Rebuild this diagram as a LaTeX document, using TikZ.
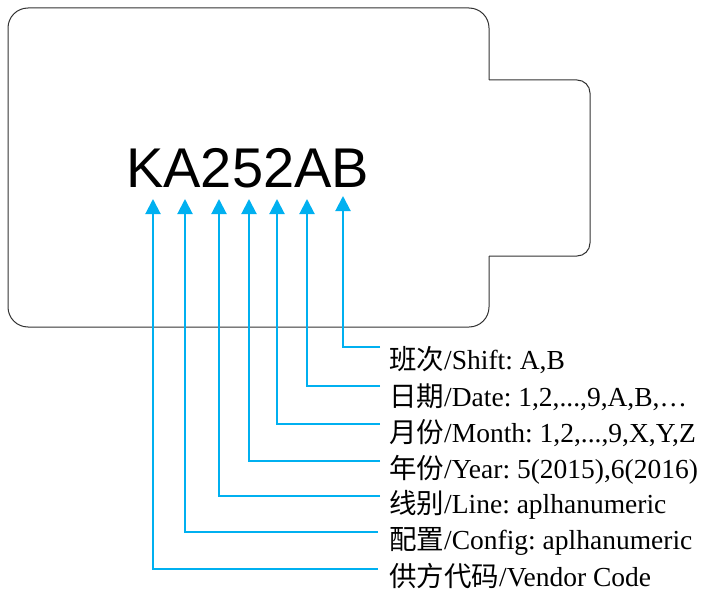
\documentclass[tikz,border=0pt]{standalone}
\usepackage{fontspec}
\setmainfont{Liberation Serif}
\newfontfamily\cjk{Noto Sans CJK SC}
\newfontfamily\codefont{Liberation Sans}
\usetikzlibrary{arrows.meta}
\definecolor{conncol}{RGB}{0,176,240}
\definecolor{outlinecol}{RGB}{50,50,50}
\frenchspacing
\begin{document}
\begin{tikzpicture}[x=1pt,y=-1pt,
  outline/.style={draw=outlinecol,line width=1pt},
  conn/.style={draw=conncol,line width=2pt,-{Triangle[width=15pt,length=15pt]}},
  lbl/.style={anchor=base west,inner sep=0pt,font=\fontsize{27.5}{30}\selectfont},
  code/.style={anchor=base west,inner sep=0pt,font=\codefont\fontsize{56}{60}\selectfont}]
\useasboundingbox (0,0) rectangle (704,591);
% housing outline
\draw[outline,rounded corners=20pt] (489,80) -- (489,8) -- (8,8) -- (8,327) -- (489,327) -- (489,256);
\draw[outline,rounded corners=13pt] (489,80) -- (590,80) -- (590,256) -- (489,256);
% code
\node[code] (code) at (126,187) {KA252AB};
% labels
\node[lbl] (l1) at (389,369) {{\cjk 班次}/Shift: A,B};
\node[lbl] (l2) at (389,406) {{\cjk 日期}/Date: 1,2,...,9,A,B,…};
\node[lbl] (l3) at (389,442) {{\cjk 月份}/Month: 1,2,...,9,X,Y,Z};
\node[lbl] (l4) at (389,478) {{\cjk 年份}/Year: 5(2015),6(2016)};
\node[lbl] (l5) at (389,513) {{\cjk 线别}/Line: aplhanumeric};
\node[lbl] (l6) at (389,549) {{\cjk 配置}/Config: aplhanumeric};
\node[lbl] (l7) at (389,586) {{\cjk 供方代码}/Vendor Code};
% arrow tips
\coordinate (t1) at (343,196);
\coordinate (t2) at (307,199);
\coordinate (t3) at (277,199);
\coordinate (t4) at (249,199);
\coordinate (t5) at (219,199);
\coordinate (t6) at (185,199);
\coordinate (t7) at (153,199);
% elbow starts
\coordinate (e1) at (380,347);
\coordinate (e2) at (380,386);
\coordinate (e3) at (380,424);
\coordinate (e4) at (380,461);
\coordinate (e5) at (380,496);
\coordinate (e6) at (378,532);
\coordinate (e7) at (378,569);
\foreach \i in {1,...,7} {\draw[conn] (e\i) -| (t\i);}
\end{tikzpicture}
\end{document}
